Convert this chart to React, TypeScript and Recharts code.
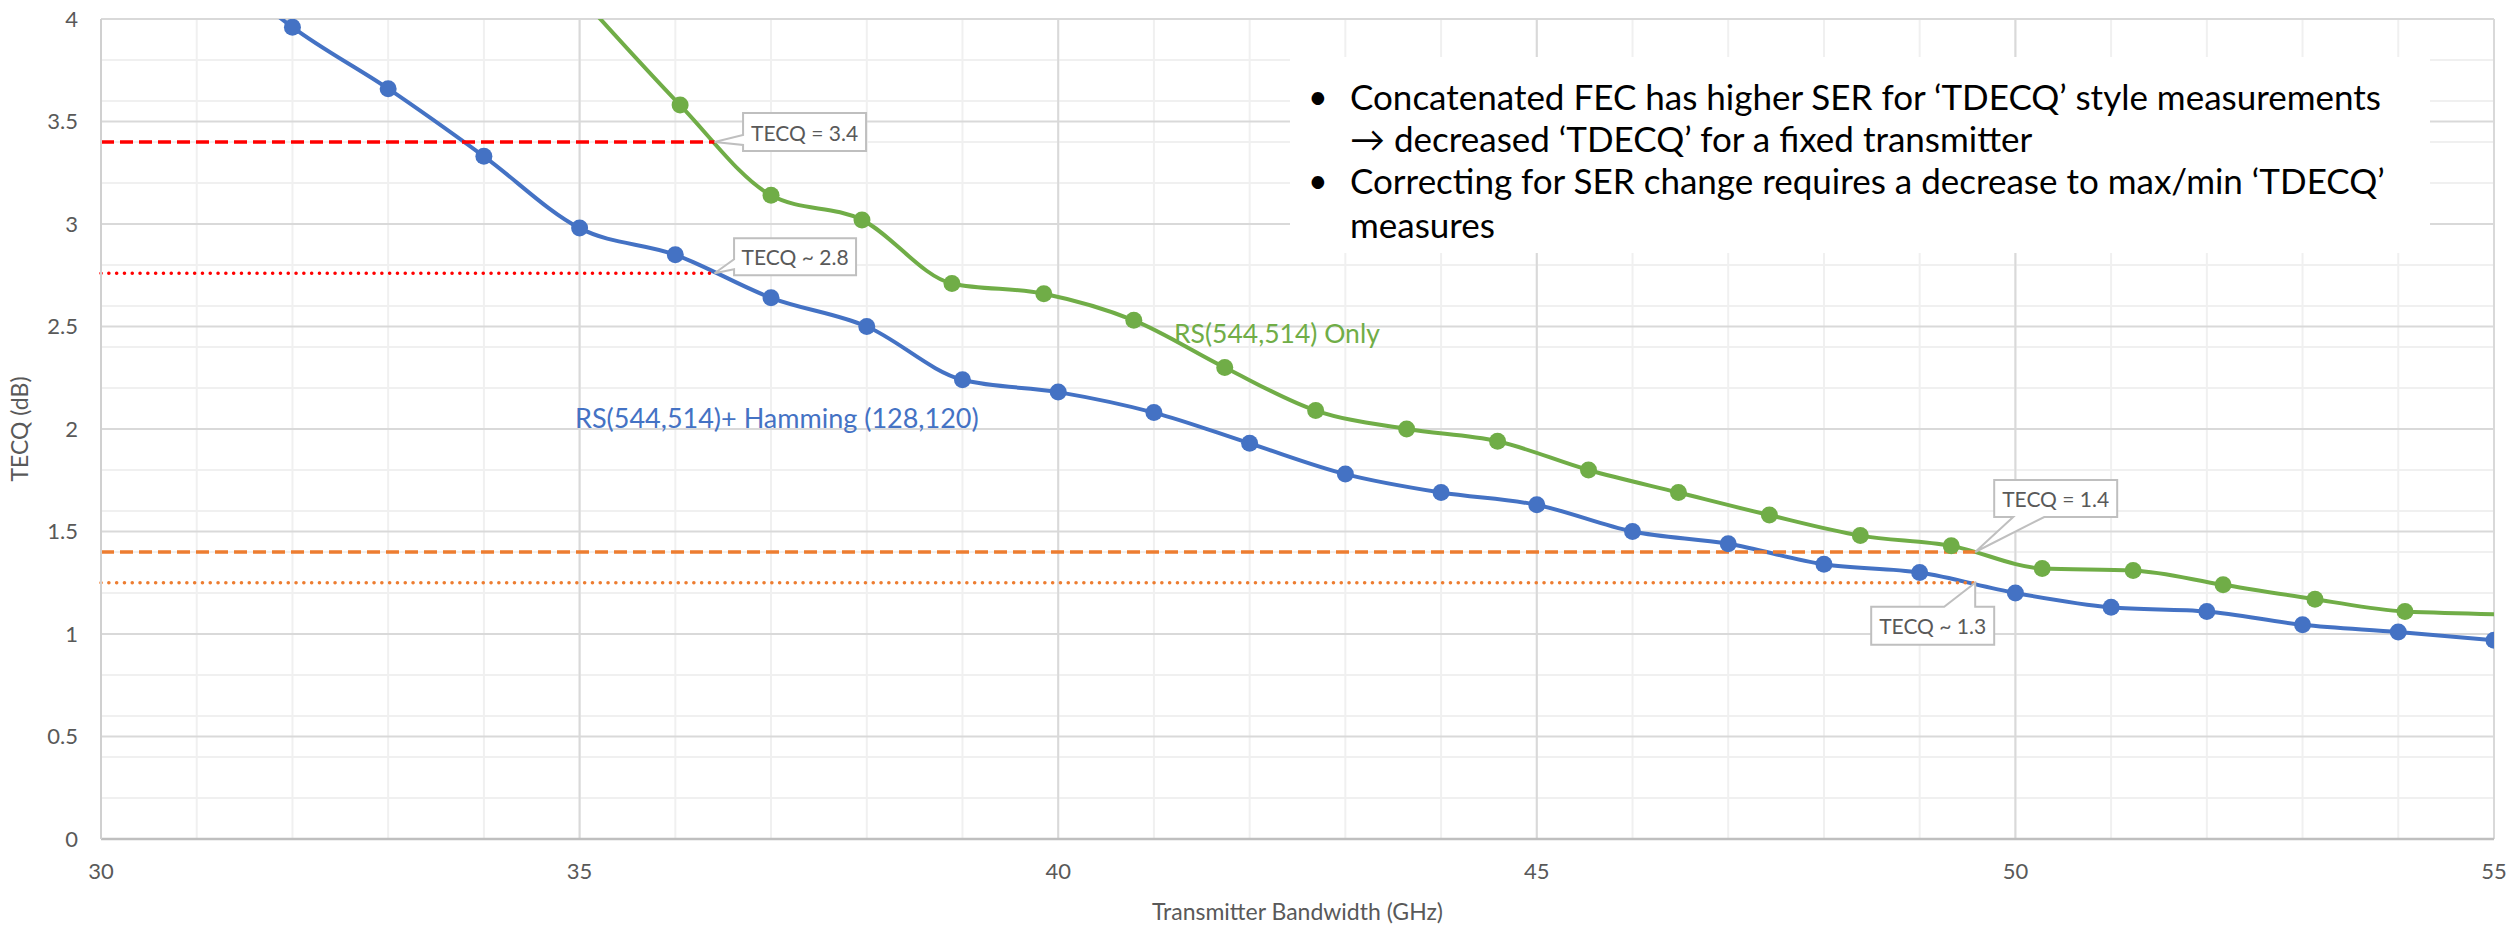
import React from "react";
import {
  LineChart,
  Line,
  XAxis,
  YAxis,
  CartesianGrid,
  ReferenceLine,
} from "recharts";

// RS(544,514) + Hamming(128,120)
const hammingX = [31, 32, 33, 34, 35, 36, 37, 38, 39, 40, 41, 42, 43, 44, 45, 46, 47, 48, 49, 50, 51, 52, 53, 54, 55];
const hammingY = [4.35, 3.96, 3.66, 3.33, 2.98, 2.85, 2.64, 2.5, 2.24, 2.18, 2.08, 1.93, 1.78, 1.69, 1.63, 1.5, 1.44, 1.34, 1.3, 1.2, 1.13, 1.11, 1.045, 1.01, 0.97];

// RS(544,514) only
const rsOnlyX = [35.1, 36.05, 37.0, 37.95, 38.89, 39.85, 40.79, 41.74, 42.69, 43.64, 44.59, 45.54, 46.48, 47.43, 48.38, 49.33, 50.28, 51.23, 52.17, 53.13, 54.07, 55.95];
const rsOnlyY = [4.06, 3.58, 3.14, 3.02, 2.71, 2.66, 2.53, 2.3, 2.09, 2.0, 1.94, 1.8, 1.69, 1.58, 1.48, 1.43, 1.32, 1.31, 1.24, 1.17, 1.11, 1.09];

const xTicks = [30, 35, 40, 45, 50, 55];
const yTicks = [0, 0.5, 1, 1.5, 2, 2.5, 3, 3.5, 4];
const xMinor = Array.from({ length: 26 }, (_, i) => 30 + i);
const yMinor = Array.from({ length: 41 }, (_, i) => i / 10);

// threshold lines: level, end of segment, label
const thresholdY = [3.4, 2.76, 1.4, 1.25];
const thresholdEndX = [36.41, 36.41, 49.58, 49.58];
const thresholdText = ["TECQ = 3.4", "TECQ ~ 2.8", "TECQ = 1.4", "TECQ ~ 1.3"];

const hammingData = hammingX.map((x, i) => ({ x, y: hammingY[i] }));
const rsOnlyData = rsOnlyX.map((x, i) => ({ x, y: rsOnlyY[i] }));

const BLUE = "#4472C4";
const GREEN = "#70AD47";
const FONT = "Lato, 'Open Sans', sans-serif";

const lineStyles = [
  { stroke: "#FF0000", dash: "13 6", cap: "butt" },
  { stroke: "#FF0000", dash: "0.1 7.7", cap: "round" },
  { stroke: "#ED7D31", dash: "13 6", cap: "butt" },
  { stroke: "#ED7D31", dash: "0.1 7.7", cap: "round" },
];

// callout box geometry relative to segment end
const calloutGeom = [
  { dx: 28.5, dy: -29, w: 123, h: 38, side: "left", a: -7, b: 3 },
  { dx: 19.5, dy: -35, w: 122, h: 37, side: "left", a: -14, b: -4 },
  { dx: 19, dy: -72, w: 123, h: 37, side: "bottom", a: 38, b: 69 },
  { dx: -104, dy: 24, w: 123, h: 38, side: "top", a: -31, b: 0 },
];

function Callout(props: any) {
  const { viewBox, text, geom } = props;
  if (!viewBox) return null;
  const ex = viewBox.x + viewBox.width;
  const ey = viewBox.y;
  const x0 = ex + geom.dx;
  const y0 = ey + geom.dy;
  const x1 = x0 + geom.w;
  const y1 = y0 + geom.h;
  let d = "";
  if (geom.side === "left") {
    d = `M${x0},${y0} H${x1} V${y1} H${x0} V${ey + geom.b} L${ex},${ey} L${x0},${ey + geom.a} Z`;
  } else if (geom.side === "bottom") {
    d = `M${x0},${y0} H${x1} V${y1} H${ex + geom.b} L${ex},${ey} L${ex + geom.a},${y1} H${x0} Z`;
  } else {
    d = `M${x0},${y0} H${ex + geom.a} L${ex},${ey} L${ex + geom.b},${y0} H${x1} V${y1} H${x0} Z`;
  }
  return (
    <g>
      <path d={d} fill="#fff" stroke="#BFBFBF" strokeWidth={2} />
      <text
        x={(x0 + x1) / 2}
        y={(y0 + y1) / 2}
        textAnchor="middle"
        dominantBaseline="central"
        fill="#595959"
        fontSize={21}
        fontFamily={FONT}
      >
        {text}
      </text>
    </g>
  );
}

function YTitle(props: any) {
  const vb = props.viewBox || { x: 0, y: 19, width: 101, height: 820 };
  const cy = vb.y + vb.height / 2;
  return (
    <text
      x={19}
      y={cy}
      transform={`rotate(-90, 19, ${cy})`}
      textAnchor="middle"
      dominantBaseline="central"
      fill="#595959"
      fontSize={23}
      fontFamily={FONT}
    >
      TECQ (dB)
    </text>
  );
}

function XTitle(props: any) {
  const vb = props.viewBox || { x: 101, y: 839, width: 2393, height: 88 };
  return (
    <text
      x={vb.x + vb.width / 2}
      y={911}
      textAnchor="middle"
      dominantBaseline="central"
      fill="#595959"
      fontSize={23}
      fontFamily={FONT}
    >
      Transmitter Bandwidth (GHz)
    </text>
  );
}

const notes = [
  { bullet: true, text: "Concatenated FEC has higher SER for \u2018TDECQ\u2019 style measurements", y: 96 },
  { bullet: false, text: "\u2192 decreased \u2018TDECQ\u2019 for a fixed transmitter", y: 138 },
  { bullet: true, text: "Correcting for SER change requires a decrease to max/min \u2018TDECQ\u2019", y: 180 },
  { bullet: false, text: "measures", y: 224 },
];

export default function App() {
  const tick = { fill: "#595959", fontSize: 22, fontFamily: FONT };
  return (
    <div
      style={{
        position: "absolute",
        left: 0,
        top: 0,
        width: 2509,
        height: 927,
        background: "#fff",
        fontFamily: FONT,
        overflow: "hidden",
      }}
    >
      <LineChart width={2509} height={927} margin={{ top: 19, right: 15, bottom: 0, left: 0 }}>
        <CartesianGrid
          stroke="#F0F0F0"
          strokeWidth={2}
          horizontalValues={yMinor}
          verticalValues={xMinor}
        />
        <CartesianGrid
          stroke="#D9D9D9"
          strokeWidth={2}
          horizontalValues={yTicks}
          verticalValues={xTicks}
        />
        <XAxis
          type="number"
          dataKey="x"
          domain={[30, 55]}
          ticks={xTicks}
          allowDataOverflow
          tickLine={false}
          tickSize={0}
          tickMargin={24}
          height={88}
          axisLine={{ stroke: "#BFBFBF", strokeWidth: 2.5 }}
          tick={tick}
          label={<XTitle />}
        />
        <YAxis
          type="number"
          domain={[0, 4]}
          ticks={yTicks}
          allowDataOverflow
          tickLine={false}
          tickSize={0}
          tickMargin={23}
          width={101}
          axisLine={{ stroke: "#D0D0D0", strokeWidth: 2 }}
          tick={tick}
          label={<YTitle />}
        />
        <Line
          data={hammingData}
          dataKey="y"
          type="monotone"
          stroke={BLUE}
          strokeWidth={4}
          dot={{ r: 8.5, fill: BLUE, stroke: BLUE, strokeWidth: 0 }}
          activeDot={false}
          isAnimationActive={false}
        />
        <Line
          data={rsOnlyData}
          dataKey="y"
          type="monotone"
          stroke={GREEN}
          strokeWidth={4}
          dot={{ r: 8.5, fill: GREEN, stroke: GREEN, strokeWidth: 0 }}
          activeDot={false}
          isAnimationActive={false}
        />
        {thresholdY.map((y, i) => (
          <ReferenceLine
            key={i}
            segment={[
              { x: 30, y },
              { x: thresholdEndX[i], y },
            ]}
            stroke={lineStyles[i].stroke}
            strokeWidth={3.5}
            strokeDasharray={lineStyles[i].dash}
            strokeLinecap={lineStyles[i].cap as any}
            label={<Callout text={thresholdText[i]} geom={calloutGeom[i]} />}
          />
        ))}
      </LineChart>

      <div
        style={{
          position: "absolute",
          left: 575,
          top: 400,
          fontSize: 27,
          color: BLUE,
          whiteSpace: "nowrap",
          lineHeight: "36px",
        }}
      >
        RS(544,514)+ Hamming (128,120)
      </div>
      <div
        style={{
          position: "absolute",
          left: 1174,
          top: 315,
          fontSize: 26.5,
          color: GREEN,
          whiteSpace: "nowrap",
          lineHeight: "36px",
        }}
      >
        RS(544,514) Only
      </div>

      <div
        style={{
          position: "absolute",
          left: 1290,
          top: 57,
          width: 1140,
          height: 196,
          background: "#fff",
        }}
      />
      {notes.map((n, i) => (
        <React.Fragment key={i}>
          {n.bullet && (
            <div
              style={{
                position: "absolute",
                left: 1308,
                top: n.y - 22,
                fontSize: 34,
                lineHeight: "44px",
                color: "#000",
              }}
            >
              {"\u2022"}
            </div>
          )}
          <div
            style={{
              position: "absolute",
              left: 1350,
              top: n.y - 22,
              fontSize: 35,
              lineHeight: "44px",
              color: "#000",
              whiteSpace: "nowrap",
            }}
          >
            {n.text}
          </div>
        </React.Fragment>
      ))}
    </div>
  );
}
